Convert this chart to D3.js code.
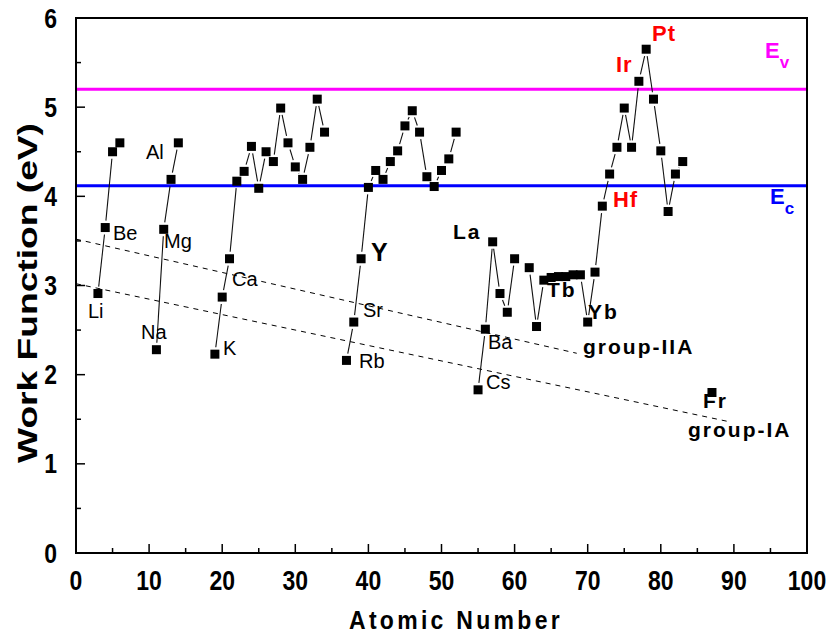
<!DOCTYPE html>
<html><head><meta charset="utf-8">
<script src="https://cdn.jsdelivr.net/npm/d3@7"></script>
<style>body{margin:0;background:#fff}svg{display:block}text{font-family:"Liberation Sans",Arial,sans-serif}</style>
</head><body>
<script>
const atomicNumber = [3,4,5,6, 11,12,13,14,
  19,20,21,22,23,24,25,26,27,28,29,30,31,32,33,34,
  37,38,39,40,41,42,43,44,45,46,47,48,49,50,51,52,
  55,56,57,58,59,60,
  62,63,64,65,66,67,68,69,70,71,72,73,74,75,76,77,78,79,80,81,82,83,
  87];
const workFunction = [2.91,3.65,4.50,4.60, 2.28,3.63,4.19,4.60,
  2.23,2.87,3.30,4.17,4.28,4.56,4.09,4.50,4.39,4.99,4.60,4.33,4.19,4.55,5.09,4.72,
  2.16,2.59,3.30,4.10,4.29,4.19,4.39,4.51,4.79,4.96,4.72,4.22,4.11,4.29,4.42,4.72,
  1.83,2.51,3.49,2.91,2.70,3.30,
  3.20,2.54,3.06,3.09,3.10,3.10,3.12,3.12,2.59,3.15,3.89,4.25,4.55,4.99,4.55,5.29,5.65,5.09,4.51,3.83,4.25,4.39,
  1.80];
const xTicks = [0,10,20,30,40,50,60,70,80,90,100];
const yTicks = [0,1,2,3,4,5,6];
const levelEv = 5.20, levelEc = 4.12;
const groupIIA = [[0,3.52],[68.5,2.24]];
const groupIA = [[0,3.02],[89.5,1.47]];
// annotations: text, anchor in data units
const plainLabels = [["Li",1.64,2.63],["Be",5.06,3.51],["Na",8.89,2.40],["Mg",12.04,3.42],["Al",9.58,4.42],
  ["Ca",21.34,2.99],["K",20.11,2.22],["Sr",39.26,2.65],["Rb",38.71,2.07],["Ba",56.36,2.29],["Cs",56.09,1.84]];
const boldLabels = [["La",51.57,3.52],["Tb",64.43,2.87],["Yb",70.04,2.62],
  ["group-IIA",69.36,2.23],["group-IA",83.72,1.30],["Fr",85.77,1.63]];
const bigLabels = [["Y",40.36,3.28]];
const redLabels = [["Hf",73.46,3.88],["Ir",73.87,5.39],["Pt",78.80,5.74]];

const W=835,H=641, L=76,R=807,T=18,B=553;
const svg=d3.select("body").append("svg").attr("width",W).attr("height",H);
const x=d3.scaleLinear().domain([0,100]).range([L,R]);
const y=d3.scaleLinear().domain([0,6]).range([B,T]);

// ticks (inward)
const minorX=d3.range(5,100,10), minorY=d3.range(0.5,6,1);
const tg=svg.append("g").attr("stroke","#000").attr("stroke-width",1.5);
xTicks.forEach(v=>tg.append("line").attr("x1",x(v)).attr("x2",x(v)).attr("y1",B).attr("y2",B-9));
minorX.forEach(v=>tg.append("line").attr("x1",x(v)).attr("x2",x(v)).attr("y1",B).attr("y2",B-5));
yTicks.forEach(v=>tg.append("line").attr("y1",y(v)).attr("y2",y(v)).attr("x1",L).attr("x2",L+9));
minorY.forEach(v=>tg.append("line").attr("y1",y(v)).attr("y2",y(v)).attr("x1",L).attr("x2",L+5));

svg.selectAll(".xt").data(xTicks).enter().append("text")
  .attr("transform",d=>`translate(${x(d)},590) scale(1,1.18)`)
  .attr("text-anchor","middle").attr("font-size",23).attr("font-weight","bold").text(d=>d);
svg.selectAll(".yt").data(yTicks).enter().append("text")
  .attr("transform",d=>`translate(57,${y(d)+9.5}) scale(1,1.18)`)
  .attr("text-anchor","end").attr("font-size",23).attr("font-weight","bold").text(d=>d);

svg.append("text").attr("transform","translate(37,293) rotate(-90)").attr("text-anchor","middle")
  .attr("font-size",27).attr("font-weight","bold").attr("textLength",340).attr("lengthAdjust","spacingAndGlyphs")
  .text("Work Function (eV)");
svg.append("text").attr("transform","translate(456,629) scale(1,1.12)").attr("text-anchor","middle")
  .attr("font-size",23).attr("font-weight","bold").attr("letter-spacing",3.3).text("Atomic Number");

// reference levels
svg.append("line").attr("x1",x(0)).attr("x2",x(100)).attr("y1",y(levelEv)).attr("y2",y(levelEv))
  .attr("stroke","#ff00ff").attr("stroke-width",3);
svg.append("line").attr("x1",x(0)).attr("x2",x(100)).attr("y1",y(levelEc)).attr("y2",y(levelEc))
  .attr("stroke","#0000ff").attr("stroke-width",3);

// dashed trend lines
[groupIIA,groupIA].forEach(g=>svg.append("line").attr("x1",x(g[0][0])).attr("y1",y(g[0][1]))
  .attr("x2",x(g[1][0])).attr("y2",y(g[1][1])).attr("stroke","#000").attr("stroke-width",1).attr("stroke-dasharray","5,5"));

// connecting lines with gap to symbol
const pts=atomicNumber.map((z,i)=>({z,v:workFunction[i],px:x(z),py:y(workFunction[i])}));
const gap=7;
for(let i=1;i<pts.length;i++){
  const a=pts[i-1],b=pts[i];
  if(b.z-a.z!==1) continue;
  const dx=b.px-a.px, dy=b.py-a.py, len=Math.hypot(dx,dy);
  if(len<=2*gap) continue;
  const ux=dx/len, uy=dy/len;
  svg.append("line").attr("x1",a.px+ux*gap).attr("y1",a.py+uy*gap).attr("x2",b.px-ux*gap).attr("y2",b.py-uy*gap)
    .attr("stroke","#111").attr("stroke-width",1.1);
}
const ms=9;
svg.selectAll(".pt").data(pts).enter().append("rect").attr("x",d=>d.px-ms/2).attr("y",d=>d.py-ms/2)
  .attr("width",ms).attr("height",ms).attr("fill","#000");

// labels
plainLabels.forEach(l=>svg.append("text").attr("x",x(l[1])).attr("y",y(l[2])).attr("font-size",20).text(l[0]));
boldLabels.forEach(l=>svg.append("text").attr("x",x(l[1])).attr("y",y(l[2])).attr("font-size",21)
  .attr("font-weight","bold").attr("letter-spacing",2).text(l[0]));
bigLabels.forEach(l=>svg.append("text").attr("x",x(l[1])).attr("y",y(l[2])).attr("font-size",25)
  .attr("font-weight","bold").text(l[0]));
redLabels.forEach(l=>svg.append("text").attr("x",x(l[1])).attr("y",y(l[2])).attr("font-size",22)
  .attr("font-weight","bold").attr("letter-spacing",1).attr("fill","#ff0000").text(l[0]));
const ev=svg.append("text").attr("x",x(94.25)).attr("y",y(5.55)).attr("font-size",22).attr("font-weight","bold").attr("fill","#ff00ff");
ev.append("tspan").text("E"); ev.append("tspan").attr("dy",10).attr("font-size",17).text("v");
const ec=svg.append("text").attr("x",x(94.94)).attr("y",y(3.91)).attr("font-size",22).attr("font-weight","bold").attr("fill","#0000ff");
ec.append("tspan").text("E"); ec.append("tspan").attr("dy",10).attr("font-size",17).text("c");

// frame
svg.append("rect").attr("x",L).attr("y",T).attr("width",R-L).attr("height",B-T).attr("fill","none")
  .attr("stroke","#000").attr("stroke-width",2);
</script>
</body></html>
